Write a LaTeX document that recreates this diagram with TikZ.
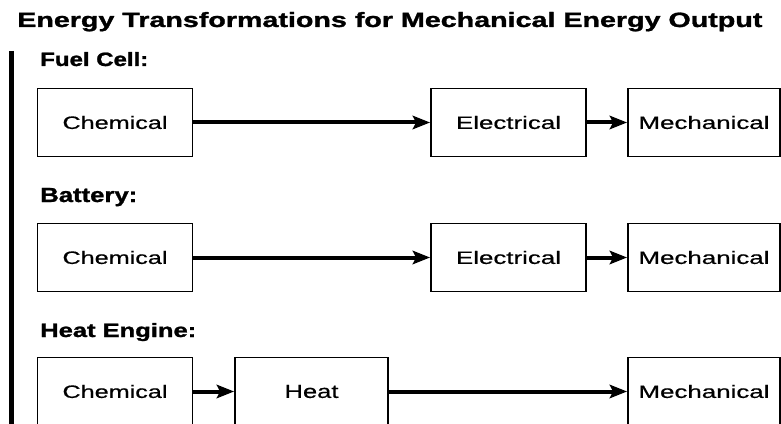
\documentclass[tikz,border=0pt]{standalone}
\usepackage{fontspec}
\setmainfont{Liberation Sans}
\newfontfamily\heavyfont{Liberation Sans Bold}[FakeBold=1.2]
\newfontfamily\boxfont{Liberation Sans}[FakeBold=0.5]
\usetikzlibrary{arrows.meta}
\newlength\pxu
\setlength\pxu{0.75pt}
\newcommand\fitbox[3]{\resizebox{#1\pxu}{#2\pxu}{#3}}
\begin{document}
\begin{tikzpicture}[x=\pxu, y=-\pxu,
  box/.style={draw, line width=1.8\pxu, minimum width=155\pxu, minimum height=68\pxu, inner sep=0pt, font=\boxfont},
  lbl/.style={anchor=base west, inner sep=0pt, font=\heavyfont},
  arr/.style={line width=3pt, -{Stealth[length=13pt, width=10pt, inset=2.5pt]}}]
\clip (0,0) rectangle (781,424);
\node[lbl] (title) at (17,27) {\fitbox{745}{15}{Energy Transformations for Mechanical Energy Output}};
\draw[line width=5.5\pxu] (11.5,51) -- (11.5,430);
% Fuel cell
\node[lbl] (fuel) at (40,66) {\fitbox{108}{14}{Fuel Cell:}};
\node[box] (fa) at (115,122.5) {\fitbox{105}{13}{Chemical}};
\node[box] (fb) at (508.5,122.5) {\fitbox{105}{13}{Electrical}};
\node[box, minimum width=152\pxu] (fc) at (704,122.5) {\fitbox{131}{13}{Mechanical}};
\draw[arr] (fa) -- (fb);
\draw[arr] (fb) -- (fc);
% Battery
\node[lbl] (batt) at (40,202) {\fitbox{97}{14}{Battery:}};
\node[box] (ba) at (115,257.5) {\fitbox{105}{13}{Chemical}};
\node[box] (bb) at (508.5,257.5) {\fitbox{105}{13}{Electrical}};
\node[box, minimum width=152\pxu] (bc) at (704,257.5) {\fitbox{131}{13}{Mechanical}};
\draw[arr] (ba) -- (bb);
\draw[arr] (bb) -- (bc);
% Heat engine
\node[lbl] (heng) at (40,337) {\fitbox{156}{14}{Heat Engine:}};
\node[box] (ha) at (115,391.5) {\fitbox{105}{13}{Chemical}};
\node[box, minimum width=153\pxu] (hb) at (311.5,391.5) {\fitbox{54}{13}{Heat}};
\node[box, minimum width=152\pxu] (hc) at (704,391.5) {\fitbox{131}{13}{Mechanical}};
\draw[arr] (ha) -- (hb);
\draw[arr] (hb) -- (hc);
\end{tikzpicture}
\end{document}
